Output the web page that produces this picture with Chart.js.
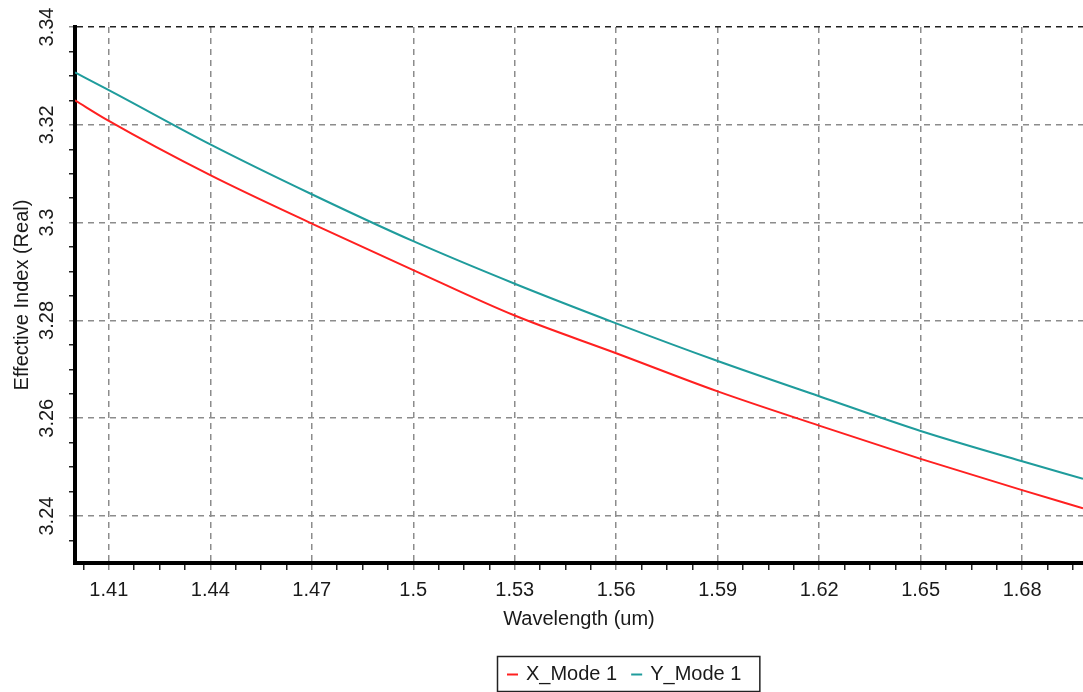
<!DOCTYPE html>
<html>
<head>
<meta charset="utf-8">
<title>Effective Index vs Wavelength</title>
<script src="https://cdn.jsdelivr.net/npm/chart.js@4/dist/chart.umd.min.js"></script>
<style>
  html, body { margin: 0; padding: 0; background: #fff; }
  #wrap { width: 1083px; height: 692px; }
</style>
</head>
<body>
<div id="wrap"><canvas id="chart" width="1083" height="692"></canvas></div>
<script>
// data
var wavelength = [1.40, 1.41, 1.44, 1.47, 1.50, 1.53, 1.56, 1.59, 1.62, 1.65, 1.68, 1.698];
var xMode1     = [3.3250, 3.3208, 3.3097, 3.2998, 3.2903, 3.2810, 3.2733, 3.2655, 3.2585, 3.2517, 3.2453, 3.2416];
var yMode1     = [3.3307, 3.3271, 3.3160, 3.3058, 3.2962, 3.2875, 3.2794, 3.2717, 3.2645, 3.2574, 3.2512, 3.2476];

var xMajorTicks = [1.41, 1.44, 1.47, 1.50, 1.53, 1.56, 1.59, 1.62, 1.65, 1.68];
var yMajorTicks = [3.24, 3.26, 3.28, 3.30, 3.32, 3.34];

var xRange = { min: 1.40, max: 1.698, minorStep: 0.0075 };
var yRange = { min: 3.2304, max: 3.34, minorStep: 0.005 };

var FONT = '"Liberation Sans", Arial, sans-serif';
var TEXT = '#1a1a1a';
var GRID = '#8c8c8c';

function isMajor(v, majors) {
  return majors.some(function(m) { return Math.abs(m - v) < 1e-7; });
}

// majors plus three minor ticks in each gap
function buildTicks(majors, range) {
  var out = [];
  var start = majors[0];
  var k = 0;
  while (start - (k + 1) * range.minorStep >= range.min - 1e-9) k++;
  for (var v = start - k * range.minorStep; v <= range.max + 1e-9; v += range.minorStep) {
    out.push({ value: Math.round(v * 1e6) / 1e6 });
  }
  return out;
}

function fmt(v) {
  return String(+v.toFixed(2));
}

var legendBox = {
  id: 'legendBox',
  afterDraw: function(chart) {
    var ctx = chart.ctx;
    var sets = chart.data.datasets;
    ctx.save();
    ctx.font = '20px ' + FONT;
    ctx.textBaseline = 'middle';
    var dash = 11, gapA = 8, gapB = 14, padL = 10, padR = 18;
    var w = padL + padR;
    sets.forEach(function(ds, i) {
      w += dash + gapA + ctx.measureText(ds.label).width + (i < sets.length - 1 ? gapB : 0);
    });
    var left = 497, top = 656, h = 35;
    ctx.strokeStyle = '#222';
    ctx.lineWidth = 1.5;
    ctx.strokeRect(left + 0.5, top + 0.5, w, h);
    var x = left + padL, y = top + h / 2 + 1;
    sets.forEach(function(ds) {
      ctx.strokeStyle = ds.borderColor;
      ctx.lineWidth = 2;
      ctx.beginPath();
      ctx.moveTo(x, y);
      ctx.lineTo(x + dash, y);
      ctx.stroke();
      x += dash + gapA;
      ctx.fillStyle = TEXT;
      ctx.fillText(ds.label, x, y);
      x += ctx.measureText(ds.label).width + gapB;
    });
    ctx.restore();
  }
};

function series(ys) {
  return wavelength.map(function(w, i) { return { x: w, y: ys[i] }; });
}

new Chart(document.getElementById('chart'), {
  type: 'line',
  data: {
    datasets: [
      { label: 'X_Mode 1', data: series(xMode1), borderColor: '#ff2020', borderWidth: 2,
        pointRadius: 0, cubicInterpolationMode: 'monotone' },
      { label: 'Y_Mode 1', data: series(yMode1), borderColor: '#1f9c9c', borderWidth: 2,
        pointRadius: 0, cubicInterpolationMode: 'monotone' }
    ]
  },
  options: {
    responsive: false,
    animation: false,
    layout: { padding: { left: 0, top: 27, right: 0, bottom: 57 } },
    plugins: { legend: { display: false }, tooltip: { enabled: false } },
    scales: {
      x: {
        type: 'linear',
        min: xRange.min,
        max: xRange.max,
        afterBuildTicks: function(s) { s.ticks = buildTicks(xMajorTicks, xRange); },
        afterFit: function(s) { s.height = 72; },
        ticks: {
          autoSkip: false,
          maxRotation: 0,
          padding: 8,
          color: TEXT,
          font: { family: FONT, size: 20 },
          callback: function(v) { return isMajor(v, xMajorTicks) ? fmt(v) : ''; }
        },
        grid: {
          tickLength: 7,
          lineWidth: 1.5,
          color: function(c) { return c.tick && isMajor(c.tick.value, xMajorTicks) ? GRID : 'rgba(0,0,0,0)'; },
          tickColor: function(c) { return c.tick && isMajor(c.tick.value, xMajorTicks) ? GRID : '#222'; }
        },
        border: { display: true, color: '#000', width: 4, dash: [6, 5] },
        title: {
          display: true,
          text: 'Wavelength (um)',
          color: TEXT,
          font: { family: FONT, size: 20 },
          padding: { top: 0, bottom: 4 }
        }
      },
      y: {
        type: 'linear',
        min: yRange.min,
        max: yRange.max,
        afterBuildTicks: function(s) { s.ticks = buildTicks(yMajorTicks, yRange); },
        afterFit: function(s) { s.width = 75; },
        ticks: {
          autoSkip: false,
          minRotation: 90,
          maxRotation: 90,
          crossAlign: 'center',
          padding: 2,
          color: TEXT,
          font: { family: FONT, size: 20 },
          callback: function(v) { return isMajor(v, yMajorTicks) ? fmt(v) : ''; }
        },
        grid: {
          tickLength: 6,
          lineWidth: 1.5,
          color: function(c) {
            if (!c.tick || !isMajor(c.tick.value, yMajorTicks)) return 'rgba(0,0,0,0)';
            return Math.abs(c.tick.value - yRange.max) < 1e-7 ? '#222' : GRID;
          },
          tickColor: function(c) { return c.tick && isMajor(c.tick.value, yMajorTicks) ? GRID : '#222'; }
        },
        border: { display: true, color: '#000', width: 4, dash: [6, 5] },
        title: {
          display: true,
          text: 'Effective Index (Real)',
          color: TEXT,
          font: { family: FONT, size: 20 },
          padding: { top: 10, bottom: 0 }
        }
      }
    }
  },
  plugins: [legendBox]
});
</script>
</body>
</html>
